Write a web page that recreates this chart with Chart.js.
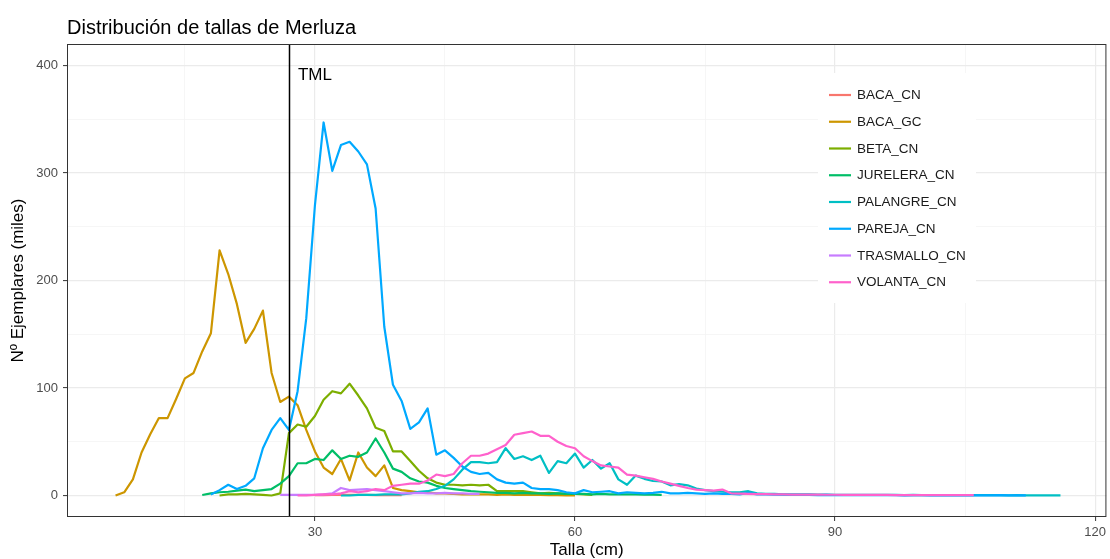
<!DOCTYPE html>
<html lang="es">
<head>
<meta charset="utf-8">
<title>Distribución de tallas de Merluza</title>
<script src="https://cdn.jsdelivr.net/npm/chart.js@4.4.1/dist/chart.umd.min.js"></script>
<style>
  html, body { margin: 0; padding: 0; background: #fff; }
</style>
</head>
<body>
<canvas id="tallas" width="1110" height="559"></canvas>
<script>
// talla (cm) -> miles de ejemplares, one array per flota; each starts at its own first talla
const flotas = ['BACA_CN', 'BACA_GC', 'BETA_CN', 'JURELERA_CN', 'PALANGRE_CN', 'PAREJA_CN', 'TRASMALLO_CN', 'VOLANTA_CN'];
const colores = ['#F8766D', '#CD9600', '#7CAE00', '#00BE67', '#00BFC4', '#00A9FF', '#C77CFF', '#FF61CC'];
const tallaInicial = [30, 7, 19, 17, 33, 18, 26, 28];

const bacaCn = [0.3, 0.4, 0.5, 0.5, 0.6, 0.5, 0.5, 0.4, 0.4, 0.3, 0.3];
const bacaGc = [0, 3, 15, 40, 57, 72, 72, 90, 109, 114, 134, 151, 228, 206, 178, 142, 155, 172, 114, 87,
  92, 84, 61, 41, 26, 20, 34, 14, 40, 26, 18, 28, 7, 5, 4, 3, 3, 2, 2, 1.5,
  1, 1, 1, 1, 0.5, 1, 0.5, 0.5, 0.5, 0.5, 0.3, 0.3, 0.2, 0.2];
const betaCn = [0, 1, 1, 1.5, 1, 0.5, 0, 2, 58, 66, 64, 74, 89, 97, 95, 104, 93, 81, 63, 60,
  41, 41, 32, 23, 16, 12, 10, 10, 9.5, 10, 9.5, 10, 4, 4, 4, 4, 3, 2, 2.5, 2,
  1.5, 1.5, 1, 0.5];
const jureleraCn = [0.5, 2, 3, 3.5, 4.5, 5.5, 4, 5, 6, 11, 18, 30, 30, 34, 33, 42, 34, 37, 36, 40,
  53, 40, 25, 22, 16, 13, 12, 9, 7, 6, 5, 4, 3.5, 3, 2.5, 2.5, 2, 2.5, 2, 2,
  1.5, 2, 1.5, 1.5, 1.5, 1, 1.5, 1, 1, 1, 1, 0.8, 0.8, 0.5];
const palangreCn = [0, 0, 0.5, 0.5, 0.5, 1, 1, 1, 2, 3.5, 4, 6, 9, 15, 24, 31, 31, 30, 31, 44,
  34, 36.5, 33, 37, 21, 32, 30, 39, 26, 33, 25, 30, 15, 10, 18.5, 15.5, 13.5, 13, 9.5, 10.5,
  9.5, 6.5, 5, 4, 3.5, 3, 3, 4, 2, 1.5, 1.5, 1, 1, 1, 1, 0.8, 0.8, 0.7,
  0.7, 0.6, 0.6, 0.5, 0.6, 0.5, 0.5, 0.4, 0.5, 0.4, 0.4, 0.4, 0.3, 0.4, 0.3, 0.3,
  0.3, 0.3, 0.3, 0.2, 0.3, 0.2, 0.2, 0.2, 0.2, 0.2];
const parejaCn = [1, 5, 10, 6, 9, 16, 44, 61, 72, 61, 97, 165, 270, 347, 302, 326, 329, 320, 308, 267,
  157, 103, 88, 62, 68, 81, 38, 42, 35, 27, 22, 20, 21, 15, 12, 11, 12, 7, 6, 6,
  5, 3, 2, 5, 3, 3.5, 4, 2, 3, 2.5, 2, 2.5, 3.5, 2, 2, 2.5, 2, 1.5, 2, 1.5,
  1.5, 1, 2.5, 1, 1, 0.8, 0.8, 0.6,
  0.5, 0.5, 0.4, 0.5, 0.4, 0.3, 0.4, 0.3, 0.3, 0.4, 0.3, 0.3, 0.2, 0.3, 0.3, 0.2,
  0.3, 0.2, 0.2, 0.3, 0.2, 0.2, 0.2, 0.3, 0.2, 0.2, 0.2];
const trasmalloCn = [0.5, 0.5, 0.5, 0.5, 0.5, 1, 2, 7, 5, 5.5, 6, 5, 4, 3, 2, 2, 2.5, 2, 2, 2.5,
  2, 2, 1.5, 1.5];
const volantaCn = [0, 0, 0.5, 1, 1, 2, 4, 3, 4, 6, 5, 9, 10, 11, 11, 14, 19.5, 18, 20, 30,
  37, 37, 39, 43, 47, 56.5, 58, 59.5, 55.5, 55.5, 50, 46, 44, 36.5, 32, 28, 27, 26, 19.5, 18.5,
  17, 15.5, 13, 11, 9, 7, 5.5, 5, 4.5, 5.5, 2, 1.8, 1.5, 1.2, 1.2, 1, 1, 0.9,
  0.9, 0.8, 0.8, 0.7, 0.7, 0.6, 0.6, 0.6, 0.5, 0.5, 0.5, 0.4, 0.4, 0.4, 0.4, 0.3,
  0.3, 0.3, 0.3, 0.3, 0.3];
const valores = [bacaCn, bacaGc, betaCn, jureleraCn, palangreCn, parejaCn, trasmalloCn, volantaCn];

// axis breaks: labelled majors plus unlabelled minor grid lines
const xMayores = [30, 60, 90, 120];
const xMenores = [15, 45, 75, 105];
const yMayores = [0, 100, 200, 300, 400];
const yMenores = [50, 150, 250, 350];
const tml = 27;

const FUENTE = '"Liberation Sans", Arial, Helvetica, sans-serif';
Chart.defaults.font.family = FUENTE;

const datasets = flotas.map((nombre, i) => ({
  label: nombre,
  data: valores[i].map((v, k) => ({ x: tallaInicial[i] + k, y: v })),
  borderColor: colores[i],
  backgroundColor: colores[i],
  borderWidth: 2.2,
  borderJoinStyle: 'round',
  pointRadius: 0,
  fill: false,
  tension: 0,
  order: -i
}));

const esMayor = (lista, ctx) => ctx.tick && lista.includes(ctx.tick.value);

// panel frame, TML line/label, legend box and title
const adornos = {
  id: 'adornos',
  beforeDraw(chart) {
    const { ctx } = chart;
    ctx.save();
    ctx.fillStyle = '#fff';
    ctx.fillRect(0, 0, chart.width, chart.height);
    ctx.restore();
  },
  afterDatasetsDraw(chart) {
    const { ctx, chartArea: a, scales: { x, y } } = chart;
    const px = Math.round(x.getPixelForValue(tml)) + 0.5;
    ctx.save();
    ctx.strokeStyle = '#000';
    ctx.lineWidth = 1.5;
    ctx.beginPath();
    ctx.moveTo(px, a.top);
    ctx.lineTo(px, a.bottom);
    ctx.stroke();
    ctx.fillStyle = '#000';
    ctx.font = '17px ' + FUENTE;
    ctx.textAlign = 'center';
    ctx.textBaseline = 'middle';
    ctx.fillText('TML', x.getPixelForValue(30), y.getPixelForValue(391));
    ctx.restore();
  },
  afterDraw(chart) {
    const { ctx, chartArea: a } = chart;
    ctx.save();
    ctx.strokeStyle = '#333';
    ctx.lineWidth = 1;
    ctx.strokeRect(a.left + 0.5, a.top + 0.5, a.right - a.left - 1, a.bottom - a.top - 1);

    // legend inside the panel
    ctx.fillStyle = '#fff';
    ctx.fillRect(818, 73, 158, 230);
    ctx.font = '13.5px ' + FUENTE;
    ctx.textAlign = 'left';
    ctx.textBaseline = 'middle';
    chart.data.datasets.forEach((ds, i) => {
      const yy = 95 + i * 26.75;
      ctx.strokeStyle = ds.borderColor;
      ctx.lineWidth = 2.2;
      ctx.beginPath();
      ctx.moveTo(829, yy);
      ctx.lineTo(851, yy);
      ctx.stroke();
      ctx.fillStyle = '#1A1A1A';
      ctx.fillText(ds.label, 857, yy + 0.5);
    });

    ctx.fillStyle = '#000';
    ctx.font = '20px ' + FUENTE;
    ctx.textBaseline = 'alphabetic';
    ctx.fillText('Distribución de tallas de Merluza', 67, 33.5);
    ctx.restore();
  }
};

new Chart(document.getElementById('tallas'), {
  type: 'line',
  data: { datasets },
  options: {
    responsive: false,
    animation: false,
    layout: { padding: { top: 44, right: 1, bottom: 0, left: 0 } },
    plugins: { legend: { display: false }, tooltip: { enabled: false } },
    scales: {
      x: {
        type: 'linear',
        min: 1.4,
        max: 121.3,
        afterBuildTicks: s => { s.ticks = [...xMenores, ...xMayores].sort((p, q) => p - q).map(v => ({ value: v })); },
        afterFit: s => { s.height = 42; },
        border: { display: false },
        grid: {
          color: c => esMayor(xMayores, c) ? '#EBEBEB' : '#F4F4F4',
          lineWidth: c => esMayor(xMayores, c) ? 1.2 : 0.8,
          tickColor: c => esMayor(xMayores, c) ? '#333' : 'rgba(0,0,0,0)',
          tickLength: 4,
          tickWidth: 1
        },
        ticks: {
          autoSkip: false,
          maxRotation: 0,
          padding: 4,
          color: '#4D4D4D',
          font: { size: 13 },
          callback: v => xMayores.includes(v) ? String(v) : ''
        },
        title: { display: true, text: 'Talla (cm)', color: '#000', font: { size: 17, lineHeight: 1.05 }, padding: { top: 0, bottom: 0 } }
      },
      y: {
        type: 'linear',
        min: -20,
        max: 420,
        afterBuildTicks: s => { s.ticks = [...yMayores, ...yMenores].sort((p, q) => p - q).map(v => ({ value: v })); },
        afterFit: s => { s.width = 67; },
        border: { display: false },
        grid: {
          color: c => esMayor(yMayores, c) ? '#EBEBEB' : '#F4F4F4',
          lineWidth: c => esMayor(yMayores, c) ? 1.2 : 0.8,
          tickColor: c => esMayor(yMayores, c) ? '#333' : 'rgba(0,0,0,0)',
          tickLength: 4,
          tickWidth: 1
        },
        ticks: {
          autoSkip: false,
          padding: 5,
          color: '#4D4D4D',
          font: { size: 13 },
          callback: v => yMayores.includes(v) ? String(v) : ''
        },
        title: { display: true, text: 'Nº Ejemplares (miles)', color: '#000', font: { size: 17 }, padding: { top: 8, bottom: 0 } }
      }
    }
  },
  plugins: [adornos]
});
</script>
</body>
</html>
